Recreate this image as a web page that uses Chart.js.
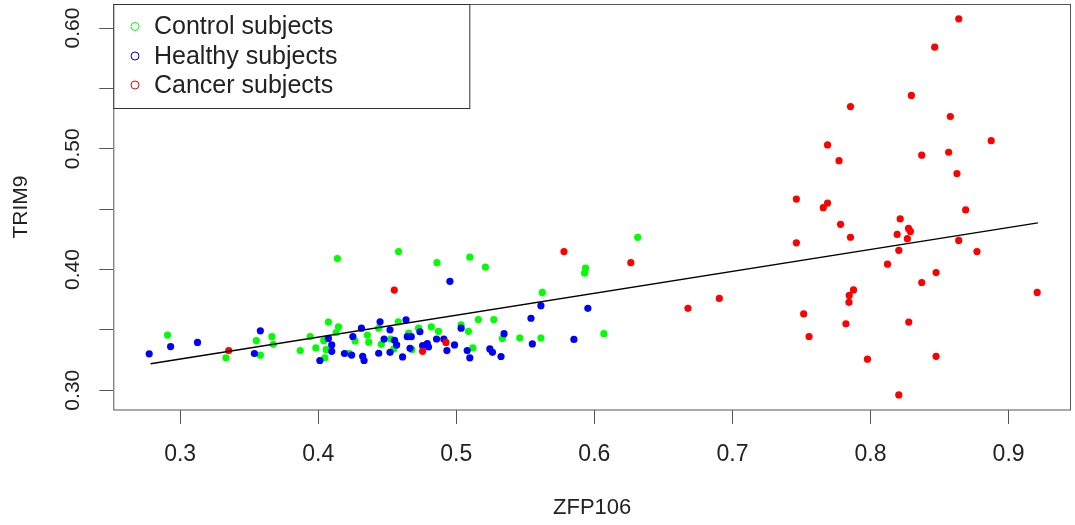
<!DOCTYPE html>
<html>
<head>
<meta charset="utf-8">
<script src="https://cdn.jsdelivr.net/npm/chart.js@4.4.0/dist/chart.umd.min.js"></script>
<style>
  html, body { margin: 0; padding: 0; background: #fff; }
  #wrap { width: 1075px; height: 525px; }
</style>
</head>
<body>
<div id="wrap"><canvas id="scatterChart" width="1075" height="525"></canvas></div>
<script>
// ZFP106 (x) vs TRIM9 (y), one pair of arrays per group
const controlX = [0.2909, 0.3332, 0.3552, 0.3581, 0.3665, 0.3675, 0.3870, 0.3942, 0.3983, 0.4074, 0.4147, 0.4130, 0.4040, 0.4058, 0.4048, 0.4221, 0.4267, 0.4139, 0.4582, 0.4860, 0.5098, 0.5211, 0.5936, 0.5929, 0.5623, 0.5160, 0.5272, 0.4438, 0.4580, 0.4727, 0.4819, 0.4871, 0.5035, 0.5088, 0.5334, 0.5460, 0.5613, 0.4356, 0.4366, 0.4525, 0.4457, 0.4655, 0.4679, 0.4548, 0.5120, 0.6314, 0.6069];
const controlY = [0.3457, 0.3268, 0.3410, 0.3290, 0.3443, 0.3380, 0.3328, 0.3445, 0.3350, 0.3564, 0.3525, 0.3478, 0.3410, 0.3336, 0.3268, 0.3306, 0.3408, 0.4091, 0.4148, 0.4056, 0.4102, 0.4020, 0.4011, 0.3970, 0.3810, 0.3585, 0.3585, 0.3514, 0.3566, 0.3514, 0.3525, 0.3488, 0.3541, 0.3488, 0.3429, 0.3432, 0.3432, 0.3457, 0.3398, 0.3424, 0.3380, 0.3474, 0.3336, 0.3342, 0.3350, 0.4266, 0.3468];

const healthyX = [0.2776, 0.2931, 0.3126, 0.3581, 0.3538, 0.4074, 0.4098, 0.4098, 0.4012, 0.4190, 0.4242, 0.4251, 0.4313, 0.4954, 0.5613, 0.5953, 0.5541, 0.4448, 0.4636, 0.4520, 0.5035, 0.5346, 0.5551, 0.5852, 0.4477, 0.4553, 0.4568, 0.4645, 0.4674, 0.4737, 0.4665, 0.4520, 0.4438, 0.4611, 0.4322, 0.4332, 0.4756, 0.4790, 0.4799, 0.4857, 0.4910, 0.4987, 0.4932, 0.5079, 0.5098, 0.5243, 0.5262, 0.5324];
const healthyY = [0.3301, 0.3361, 0.3396, 0.3492, 0.3304, 0.3429, 0.3375, 0.3322, 0.3246, 0.3304, 0.3291, 0.3445, 0.3514, 0.3902, 0.3700, 0.3678, 0.3596, 0.3566, 0.3582, 0.3500, 0.3514, 0.3468, 0.3383, 0.3421, 0.3424, 0.3413, 0.3375, 0.3443, 0.3443, 0.3484, 0.3347, 0.3314, 0.3306, 0.3276, 0.3281, 0.3246, 0.3369, 0.3386, 0.3358, 0.3424, 0.3424, 0.3375, 0.3328, 0.3328, 0.3268, 0.3342, 0.3314, 0.3279];

const cancerX = [0.3352, 0.4551, 0.4756, 0.4925, 0.5780, 0.6264, 0.6678, 0.6905, 0.8639, 0.8465, 0.8296, 0.7855, 0.8578, 0.8874, 0.7689, 0.8371, 0.8566, 0.7772, 0.8626, 0.7463, 0.7689, 0.7658, 0.8689, 0.8215, 0.7783, 0.8275, 0.8289, 0.8193, 0.7855, 0.8267, 0.7463, 0.8639, 0.8205, 0.8771, 0.8123, 0.8475, 0.8371, 0.9207, 0.7877, 0.7846, 0.7844, 0.7516, 0.7555, 0.7822, 0.8277, 0.7978, 0.8475, 0.8205];
const cancerY = [0.3328, 0.3829, 0.3322, 0.3396, 0.4148, 0.4056, 0.3678, 0.3760, 0.6076, 0.5841, 0.5442, 0.5349, 0.5267, 0.5067, 0.5032, 0.4947, 0.4971, 0.4901, 0.4794, 0.4583, 0.4550, 0.4512, 0.4493, 0.4419, 0.4374, 0.4340, 0.4315, 0.4290, 0.4267, 0.4255, 0.4221, 0.4241, 0.4159, 0.4148, 0.4044, 0.3974, 0.3892, 0.3810, 0.3831, 0.3785, 0.3728, 0.3632, 0.3445, 0.3550, 0.3564, 0.3257, 0.3281, 0.2961];

// fitted regression line, ends at min / max x
const fitX = [0.2786, 0.9212];
const fitY = [0.3219, 0.4386];

const xTicks = [0.3, 0.4, 0.5, 0.6, 0.7, 0.8, 0.9];
const xTickLabels = ['0.3', '0.4', '0.5', '0.6', '0.7', '0.8', '0.9'];
const yTicks = [0.30, 0.35, 0.40, 0.45, 0.50, 0.55, 0.60];
const yTickLabels = ['0.30', '', '0.40', '', '0.50', '', '0.60'];

const FONT = '"Liberation Sans", Arial, sans-serif';
Chart.defaults.font.family = FONT;

function toPoints(xs, ys) {
    return xs.map((x, i) => ({ x: x, y: ys[i] }));
}

// box around plot, rotated y labels and the legend, R style
const rPlotExtras = {
    id: 'rPlotExtras',
    afterDraw(chart) {
        const ctx = chart.ctx;
        const a = chart.chartArea;
        ctx.save();
        ctx.strokeStyle = '#555';
        ctx.lineWidth = 1;
        ctx.strokeRect(a.left + 0.5, a.top + 0.5, a.right - a.left - 1, a.bottom - a.top - 0.5);

        // y tick labels, reading bottom to top
        const ys = chart.scales.y;
        ctx.fillStyle = '#222';
        ctx.font = '21px ' + FONT;
        ctx.textAlign = 'center';
        ctx.textBaseline = 'middle';
        yTicks.forEach((v, i) => {
            if (!yTickLabels[i]) return;
            ctx.save();
            ctx.translate(73, ys.getPixelForValue(v));
            ctx.rotate(-Math.PI / 2);
            ctx.fillText(yTickLabels[i], 0, 0);
            ctx.restore();
        });

        // legend box
        const lx = a.left + 0.5, ly = a.top + 0.5, lw = 356, lh = 104;
        ctx.fillStyle = '#fff';
        ctx.fillRect(lx, ly, lw, lh);
        ctx.strokeStyle = '#333';
        ctx.strokeRect(lx, ly, lw, lh);
        const rows = [26.5, 56, 85];
        ctx.font = '25px ' + FONT;
        ctx.textAlign = 'left';
        chart.data.datasets.filter(d => d.inLegend).forEach((d, i) => {
            ctx.beginPath();
            ctx.arc(135, rows[i], 4, 0, Math.PI * 2);
            ctx.strokeStyle = d.backgroundColor;
            ctx.lineWidth = 1;
            ctx.stroke();
            ctx.fillStyle = '#222';
            ctx.fillText(d.label, 154, rows[i] + 1);
        });
        ctx.restore();
    }
};

const ctx = document.getElementById('scatterChart').getContext('2d');
const scatterChart = new Chart(ctx, {
    type: 'scatter',
    data: {
        datasets: [
            {
                label: 'Control subjects',
                data: toPoints(controlX, controlY),
                backgroundColor: '#00ff00',
                pointRadius: 3.6,
                pointBorderWidth: 0,
                inLegend: true,
                order: 3
            },
            {
                label: 'Healthy subjects',
                data: toPoints(healthyX, healthyY),
                backgroundColor: '#0000ff',
                pointRadius: 3.6,
                pointBorderWidth: 0,
                inLegend: true,
                order: 2
            },
            {
                label: 'Cancer subjects',
                data: toPoints(cancerX, cancerY),
                backgroundColor: '#ff0000',
                pointRadius: 3.6,
                pointBorderWidth: 0,
                inLegend: true,
                order: 1
            },
            {
                label: 'fit',
                data: toPoints(fitX, fitY),
                showLine: true,
                borderColor: '#000',
                borderWidth: 1.3,
                pointRadius: 0,
                order: 0
            }
        ]
    },
    options: {
        responsive: false,
        animation: false,
        devicePixelRatio: 1,
        layout: { padding: { left: 0, right: 1.7, top: 0, bottom: 0 } },
        plugins: {
            legend: { display: false },
            tooltip: { enabled: false }
        },
        scales: {
            x: {
                type: 'linear',
                min: 0.2516,
                max: 0.9452,
                afterBuildTicks: s => { s.ticks = xTicks.map(v => ({ value: v })); },
                afterFit: s => { s.height = 115; },
                border: { display: false },
                grid: { drawOnChartArea: false, drawTicks: true, tickLength: 14, color: '#555' },
                ticks: {
                    padding: 17,
                    color: '#222',
                    maxRotation: 0,
                    font: { size: 23 },
                    callback: (v, i) => xTickLabels[i]
                },
                title: {
                    display: true,
                    text: 'ZFP106',
                    color: '#222',
                    font: { size: 22 },
                    padding: { top: 0, bottom: 4 }
                }
            },
            y: {
                type: 'linear',
                min: 0.2836,
                max: 0.6199,
                afterBuildTicks: s => { s.ticks = yTicks.map(v => ({ value: v })); },
                afterFit: s => { s.width = 113.3; },
                border: { display: false },
                grid: { drawOnChartArea: false, drawTicks: true, tickLength: 14, color: '#555' },
                ticks: { display: false },
                title: {
                    display: true,
                    text: 'TRIM9',
                    color: '#222',
                    font: { size: 21 },
                    padding: { top: 9, bottom: 0 }
                }
            }
        }
    },
    plugins: [rPlotExtras]
});
</script>
</body>
</html>
